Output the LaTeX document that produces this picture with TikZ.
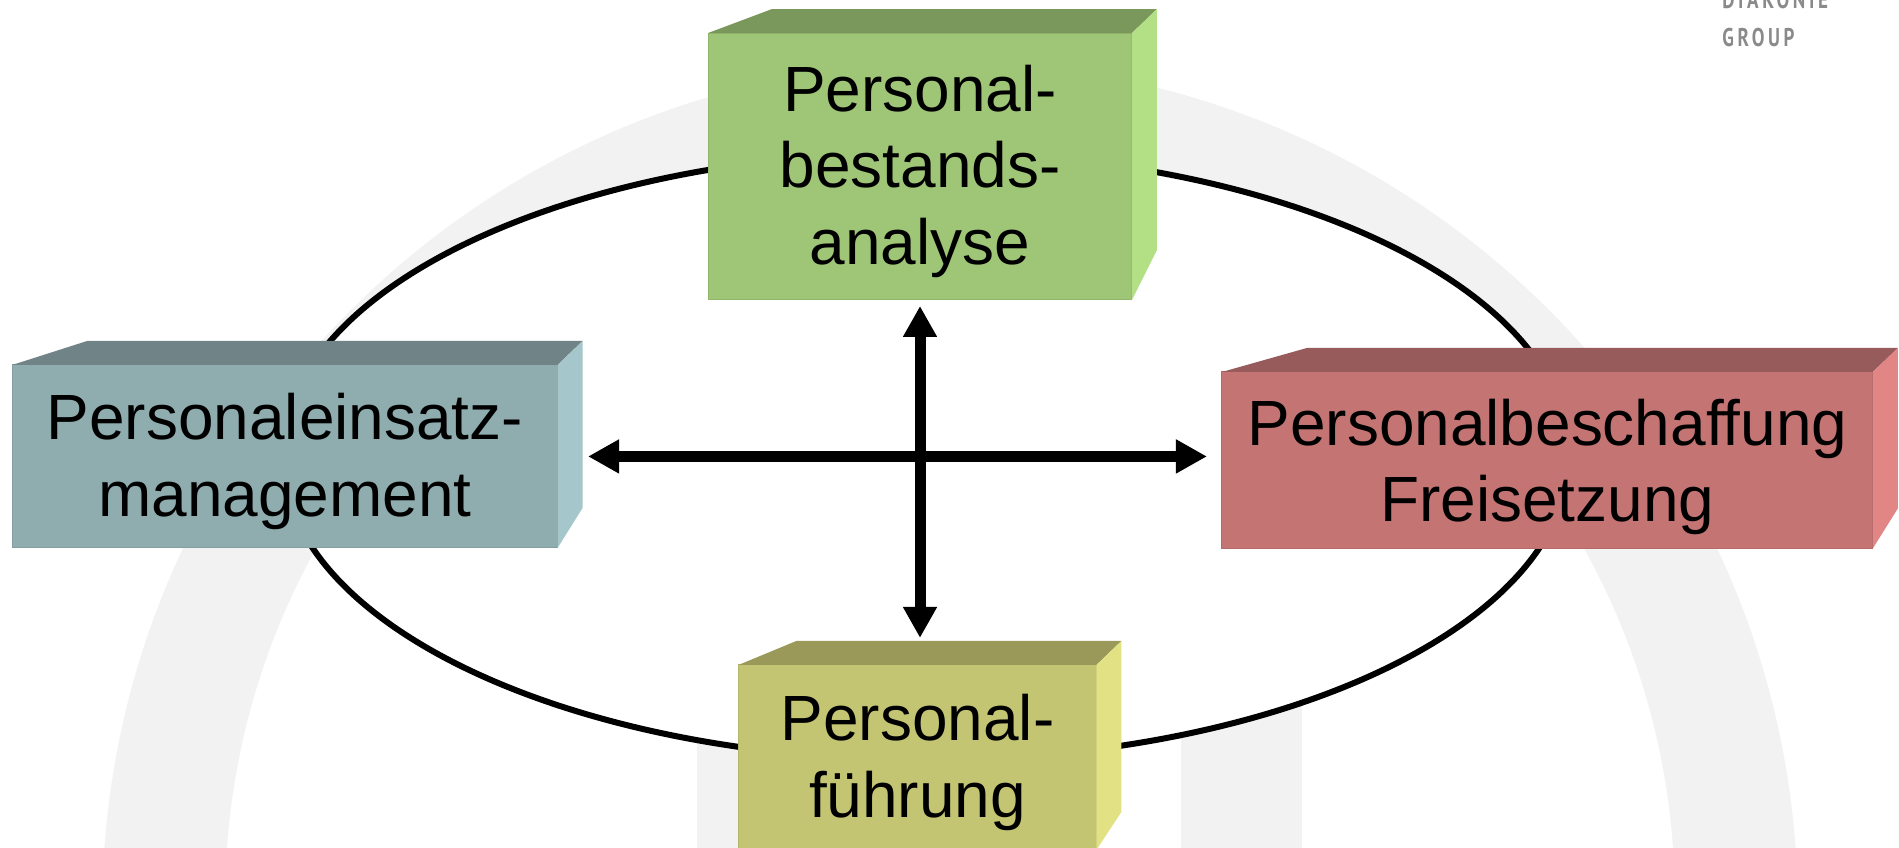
\documentclass[tikz,border=0pt]{standalone}
\usepackage{fontspec}
\setmainfont{Liberation Sans}
\newfontfamily\logofont[LetterSpace=14,FakeStretch=0.74]{PT Sans}
\usepackage{tikz}
\usetikzlibrary{positioning,arrows.meta}

\definecolor{archgray}{HTML}{F2F2F2}
\definecolor{logogray}{HTML}{8A8A8A}
\definecolor{greenfront}{HTML}{9FC577}
\definecolor{greentop}{HTML}{7A985C}
\definecolor{greenside}{HTML}{B3E084}
\definecolor{bluefront}{HTML}{8FADAF}
\definecolor{bluetop}{HTML}{708386}
\definecolor{blueside}{HTML}{A5C6CA}
\definecolor{redfront}{HTML}{C37473}
\definecolor{redtop}{HTML}{975B5B}
\definecolor{redside}{HTML}{E18585}
\definecolor{yellowfront}{HTML}{C3C573}
\definecolor{yellowtop}{HTML}{9A9959}
\definecolor{yellowside}{HTML}{E2E285}

% node, top colour, side colour, top run, side rise
\newcommand{\blockfaces}[5]{
\fill[#2] (#1.north west) -- ++(#4,-24) -- ([xshift=0.5cm,yshift=0.48cm]#1.north east) -- (#1.north east) -- cycle;
\fill[#3] (#1.north east) -- ++(25,-24) -- ([xshift=0.5cm,yshift=#5]#1.south east) -- (#1.south east) -- cycle;
}

\begin{document}
\begin{tikzpicture}[x=0.02cm, y=-0.02cm,
  block/.style={draw=#1!92!black, fill=#1, line width=0.02cm, outer sep=0pt, inner sep=0pt, align=center,
    text depth=2pt, font=\fontsize{36.4pt}{43.5pt}\selectfont},
  bigarrow/.style={{Triangle[length=0.62cm,width=0.64cm]}-{Triangle[length=0.62cm,width=0.64cm]}, line width=0.22cm},
  ring/.style={draw=black, fill=white, line width=0.12cm}]
\useasboundingbox (0,0) rectangle (1899,848);
\clip (0,0) rectangle (1899,848);
\fill[archgray, even odd rule] (950,910) circle[radius=16.96cm] (950,900) circle[radius=14.5cm];
\fill[archgray] (697,600) rectangle (818,848);
\fill[archgray] (1181,600) rectangle (1302,848);
\draw[ring] (926,456) ellipse[x radius=12.87cm, y radius=6.08cm];
\node (PB) [block=greenfront, minimum width=8.48cm, minimum height=5.34cm] at (920,166.5) {Personal-\\bestands-\\analyse};
\node (PE) [block=bluefront, minimum width=10.91cm, minimum height=3.66cm, below left=1.3cm and 3.01cm of PB] {Personaleinsatz-\\management};
\node (BF) [block=redfront, text depth=0pt, minimum width=13.02cm, minimum height=3.53cm, below right=1.44cm and 1.8cm of PB] {Personalbeschaffung\\Freisetzung};
\node (PF) [block=yellowfront, minimum width=7.16cm, minimum height=3.7cm, below=7.3cm of PB, xshift=-0.05cm] {Personal-\\führung};
\blockfaces{PB}{greentop}{greenside}{64}{1cm}
\blockfaces{PE}{bluetop}{blueside}{75}{0.8cm}
\blockfaces{BF}{redtop}{redside}{85}{0.8cm}
\blockfaces{PF}{yellowtop}{yellowside}{58}{0.76cm}
\draw[bigarrow, shorten <=0.61cm, shorten >=0.3cm] (PE.east) -- (PE.east -| BF.west);
\draw[bigarrow, shorten <=0.12cm, shorten >=0.54cm] (PB.south) -- (PB.south |- PF.north);
\node (LG) [anchor=north west, inner sep=0pt, align=left, text=logogray, font=\logofont\bfseries\fontsize{14.6pt}{21.6pt}\selectfont] at (1722,-10) {DIAKONIE\\GROUP};
\end{tikzpicture}
\end{document}
